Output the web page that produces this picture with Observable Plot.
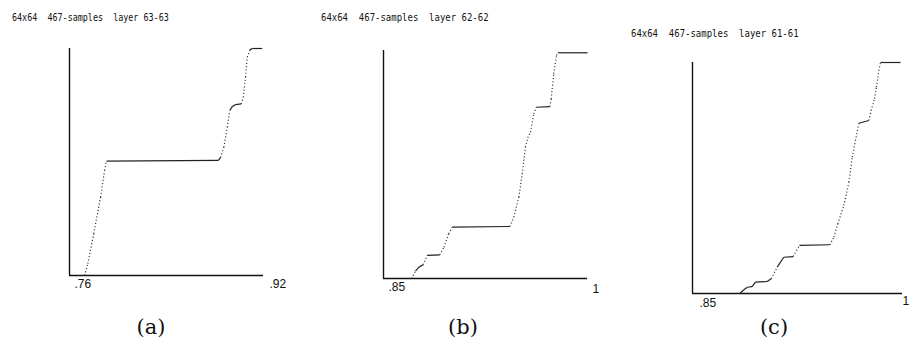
<!DOCTYPE html>
<html>
<head>
<meta charset="utf-8">
<script src="https://cdn.jsdelivr.net/npm/d3@7"></script>
<script src="https://cdn.jsdelivr.net/npm/@observablehq/plot@0.6"></script>
<style>
  html, body { margin: 0; padding: 0; background: #fff; }
  #root { position: relative; width: 911px; height: 356px; background: #fff; overflow: hidden; }
  .title { position: absolute; font-family: "DejaVu Sans Mono", monospace; font-size: 10.5px; white-space: pre; color: #111; transform-origin: left top; }
  .cap { position: absolute; font-family: "DejaVu Serif", serif; font-size: 21px; color: #111; width: 60px; text-align: center; }
  .panel { position: absolute; top: 0; }
</style>
</head>
<body>
<div id="root"></div>
<script>
// ---- data ----
const titles = ["64x64  467-samples  layer 63-63", "64x64  467-samples  layer 62-62", "64x64  467-samples  layer 61-61"];
const captions = ["(a)", "(b)", "(c)"];

const aDomain = [0.76, 0.92];
const aTicks = [0.76, 0.92];
const aTickLabels = [".76", ".92"];
const aX = [0.7724,0.7751,0.7800,0.7856,0.7889,0.7905,0.8829,0.8846,0.8873,0.8901,0.8922,0.8942,0.8970,0.9017,0.9033,0.9052,0.9066,0.9088,0.9107,0.9190];
const aY = [0,0.052,0.184,0.345,0.463,0.504,0.507,0.520,0.565,0.653,0.727,0.744,0.753,0.756,0.785,0.874,0.962,0.994,1,1];

const bDomain = [0.85, 1];
const bTicks = [0.85, 1];
const bTickLabels = [".85", "1"];
const bX = [0.8706,0.8735,0.8760,0.8792,0.8821,0.8914,0.8944,0.8980,0.9005,0.9429,0.9458,0.9495,0.9520,0.9544,0.9561,0.9581,0.9605,0.9623,0.9723,0.9733,0.9752,0.9772,0.9782,1.0];
const bY = [0,0.032,0.050,0.060,0.101,0.104,0.137,0.196,0.225,0.228,0.269,0.357,0.459,0.576,0.617,0.642,0.722,0.751,0.754,0.788,0.898,0.978,0.990,0.990];

const cDomain = [0.85, 1];
const cTicks = [0.85, 1];
const cTickLabels = [".85", "1"];
const cX = [0.8838,0.8867,0.8891,0.8926,0.8950,0.9033,0.9062,0.9105,0.9152,0.9219,0.9243,0.9264,0.9481,0.9510,0.9538,0.9581,0.9617,0.9641,0.9664,0.9688,0.9760,0.9776,0.9800,0.9814,0.9831,0.9843,0.9986];
const cY = [0,0.016,0.027,0.030,0.049,0.052,0.064,0.114,0.157,0.160,0.186,0.208,0.211,0.244,0.302,0.381,0.482,0.590,0.662,0.737,0.749,0.792,0.843,0.893,0.965,1,1];

// ---- layout ----
const panels = [
  {xs: aX, ys: aY, domain: aDomain, ticks: aTicks, labels: aTickLabels,
   left: 0, width: 300, height: 320, mL: 69, mR: 37, mT: 48, mB: 45, tickDx: [5, 6], tickPad: [4, 4],
   title: {left: 12, top: 11, sx: 0.80}, cap: {cx: 151, top: 315}},
  {xs: bX, ys: bY, domain: bDomain, ticks: bTicks, labels: bTickLabels,
   left: 300, width: 311, height: 320, mL: 83, mR: 24, mT: 50, mB: 42, tickDx: [5, 5], tickPad: [4, 6],
   title: {left: 321, top: 11, sx: 0.855}, cap: {cx: 463, top: 315}},
  {xs: cX, ys: cY, domain: cDomain, ticks: cTicks, labels: cTickLabels,
   left: 600, width: 311, height: 330, mL: 92, mR: 9, mT: 62, mB: 37, tickDx: [7, 0], tickPad: [5, 3],
   title: {left: 631, top: 27, sx: 0.855}, cap: {cx: 774, top: 315}}
];

const root = document.getElementById("root");

panels.forEach((p, k) => {
  const pts = p.xs.map((x, i) => ({x, y: p.ys[i]}));
  const w = p.domain[1] - p.domain[0];
  const segs = [];
  for (let i = 0; i < pts.length - 1; i++) {
    const a = pts[i], b = pts[i + 1];
    const slope = Math.abs(b.y - a.y) / Math.max(1e-9, (b.x - a.x) / w);
    segs.push({x1: a.x, y1: a.y, x2: b.x, y2: b.y, steep: slope > 1.5});
  }
  const tickMarks = p.ticks.map((t, j) => Plot.axisX([t], {
    tickSize: 0, tickPadding: p.tickPad[j], textAnchor: "start", dx: p.tickDx[j],
    tickFormat: d => p.labels[p.ticks.indexOf(d)],
    fontSize: 12, fontFamily: "Liberation Sans, sans-serif", fill: "#111"
  }));
  const chart = Plot.plot({
    width: p.width, height: p.height,
    marginLeft: p.mL, marginRight: p.mR, marginTop: p.mT, marginBottom: p.mB,
    x: {domain: p.domain},
    y: {domain: [0, 1], axis: null},
    style: {background: "transparent", overflow: "visible"},
    marks: [
      Plot.ruleX([p.domain[0]], {y1: 0, y2: 1, stroke: "#111", strokeWidth: 1.4}),
      Plot.ruleY([0], {x1: p.domain[0], x2: p.domain[1], stroke: "#111", strokeWidth: 1.4}),
      Plot.link(segs.filter(s => !s.steep), {x1: "x1", y1: "y1", x2: "x2", y2: "y2", stroke: "#222", strokeWidth: 1.2}),
      Plot.link(segs.filter(s => s.steep), {x1: "x1", y1: "y1", x2: "x2", y2: "y2", stroke: "#333", strokeWidth: 1.2, strokeDasharray: "1.1,2.2"}),
      ...tickMarks
    ]
  });
  chart.classList.add("panel");
  chart.style.left = p.left + "px";
  root.appendChild(chart);

  const t = document.createElement("div");
  t.className = "title";
  t.textContent = titles[k];
  t.style.left = p.title.left + "px";
  t.style.top = p.title.top + "px";
  t.style.transform = `scaleX(${p.title.sx})`;
  root.appendChild(t);

  const c = document.createElement("div");
  c.className = "cap";
  c.textContent = captions[k];
  c.style.left = (p.cap.cx - 30) + "px";
  c.style.top = p.cap.top + "px";
  root.appendChild(c);
});
</script>
</body>
</html>
